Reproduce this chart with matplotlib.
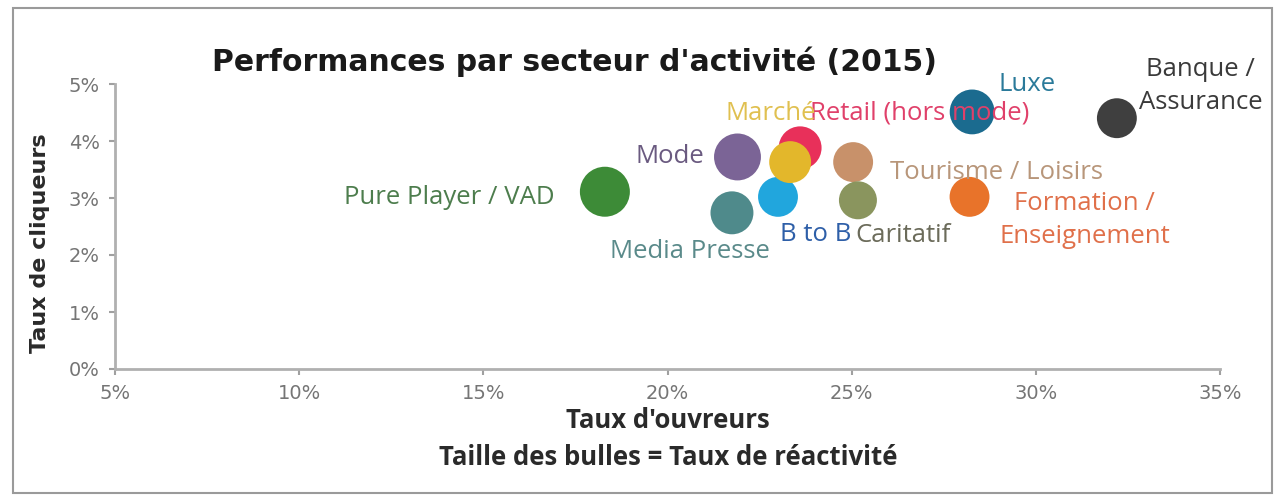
import matplotlib.pyplot as plt
from matplotlib.ticker import FuncFormatter
from matplotlib.patches import Rectangle

# Data (percentages)
sectors = [
    "Pure Player / VAD",
    "Mode",
    "Media Presse",
    "Retail (hors mode)",
    "B to B",
    "Marché",
    "Tourisme / Loisirs",
    "Caritatif",
    "Luxe",
    "Formation /\nEnseignement",
    "Banque /\nAssurance",
]
taux_ouvreurs = [18.3, 21.9, 21.75, 23.6, 23.0, 23.33, 25.04, 25.17, 28.27, 28.2, 32.2]
taux_cliqueurs = [3.11, 3.72, 2.74, 3.88, 3.02, 3.63, 3.63, 2.96, 4.51, 3.02, 4.40]
taux_reactivite = [16.8, 14.8, 12.4, 12.4, 10.7, 11.8, 10.7, 9.7, 13.5, 10.7, 10.7]

bubble_colors = ["#3d8b37", "#7b6496", "#4f8a8b", "#e8305a", "#21a6dd", "#e3b72b",
                 "#c8916a", "#8a955e", "#1b6b8f", "#e8732a", "#3f3f3f"]
label_colors = ["#4d7d4d", "#6a5a80", "#5a8a8a", "#e0406a", "#2e5fa8", "#e0c050",
                "#b8967a", "#6b6b5a", "#2a7a9a", "#e0704a", "#3a3a3a"]
# label offsets in pixels (dx, dy) and alignment
label_offsets = [(-50, -6, "right"), (-33, 0, "right"), (-42, -39, "center"),
                 (10, 35, "left"), (2, -38, "left"), (-65, 49, "left"),
                 (37, -10, "left"), (-3, -35, "left"), (26, 27, "left"),
                 (30, -23, "left"), (22, 32, "left")]

label_font = "Open Sans"
fig = plt.figure(figsize=(12.86, 4.98), dpi=100)
fig.patches.append(Rectangle((13 / 1286, 1 - 493 / 498), (1272 - 13) / 1286, (493 - 8) / 498,
                             transform=fig.transFigure, fill=False, edgecolor="#9a9a9a",
                             linewidth=1.5))

ax = fig.add_axes([115 / 1286, 1 - 369 / 498, (1220 - 115) / 1286, (369 - 84) / 498])

sizes = [r * 77.1 for r in taux_reactivite]
ax.scatter(taux_ouvreurs, taux_cliqueurs, s=sizes, c=bubble_colors, edgecolors="none",
           zorder=3)

for i, name in enumerate(sectors):
    dx, dy, ha = label_offsets[i]
    ax.annotate(name, (taux_ouvreurs[i], taux_cliqueurs[i]),
                xytext=(dx * 0.72, dy * 0.72), textcoords="offset points",
                ha=ha, va="center", multialignment="center", fontsize=18.5,
                family=label_font, color=label_colors[i], zorder=5,
                linespacing=1.4, annotation_clip=False)

ax.set_xlim(5, 35)
ax.set_ylim(0, 5)
ax.set_xticks([5, 10, 15, 20, 25, 30, 35])
ax.set_yticks([0, 1, 2, 3, 4, 5])
pct = FuncFormatter(lambda v, p: f"{v:.0f}%")
ax.xaxis.set_major_formatter(pct)
ax.yaxis.set_major_formatter(pct)
ax.tick_params(colors="#a0a0a0", labelcolor="#757575", length=4, width=1.5,
               labelsize=14)
ax.tick_params(axis="x", pad=7)
ax.tick_params(axis="y", pad=7)

for side in ["top", "right"]:
    ax.spines[side].set_visible(False)
for side in ["left", "bottom"]:
    ax.spines[side].set_color("#b0b0b0")
    ax.spines[side].set_linewidth(2)

fig.text(574 / 1286, 1 - 62 / 498, "Performances par secteur d'activité (2015)",
         ha="center", va="center", fontsize=21.5, fontweight="bold",
         family="DejaVu Sans", color="#1a1a1a")
fig.text(40 / 1286, 1 - 243 / 498, "Taux de cliqueurs", rotation=90, ha="center",
         va="center", fontsize=16, fontweight="bold", family="DejaVu Sans",
         color="#2a2a2a")
fig.text(668 / 1286, 1 - 421 / 498, "Taux d'ouvreurs", ha="center", va="center",
         fontsize=18.5, fontweight="bold", family=label_font, color="#2a2a2a")
fig.text(668 / 1286, 1 - 457 / 498, "Taille des bulles = Taux de réactivité",
         ha="center", va="center", fontsize=18.5, fontweight="bold", family=label_font,
         color="#2a2a2a")

fig.savefig("out.png", dpi=100)
